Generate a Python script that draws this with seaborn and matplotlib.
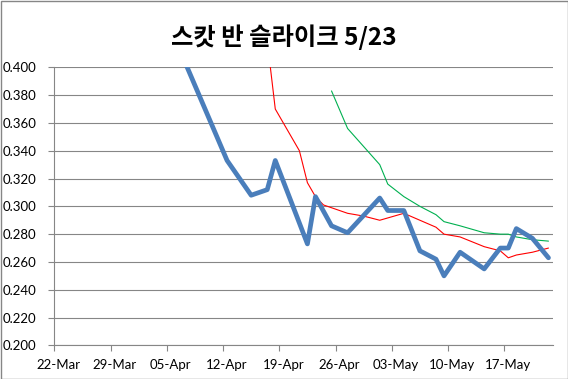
import numpy as np
import pandas as pd
import matplotlib
matplotlib.use("Agg")
import matplotlib.pyplot as plt
import matplotlib.dates as mdates
import seaborn as sns

# ---- data ----
title = "스캇 반 슬라이크 5/23"
start_date = "2014-03-22"
tick_labels = ["22-Mar", "29-Mar", "05-Apr", "12-Apr", "19-Apr", "26-Apr",
               "03-May", "10-May", "17-May"]

blue_days = [15, 21, 24, 26, 27, 31, 32, 34, 36, 40, 41, 43, 45, 47, 48, 50,
             53, 55, 56, 57, 59, 61]
blue_vals = [0.414, 0.333, 0.308, 0.312, 0.333, 0.273, 0.307, 0.286, 0.281,
             0.306, 0.297, 0.297, 0.268, 0.262, 0.250, 0.267, 0.255, 0.270,
             0.270, 0.284, 0.277, 0.263]

red_days = [26, 27, 30, 31, 32, 33, 36, 38, 40, 43, 47, 48, 50, 53, 55, 56,
            57, 59, 61]
red_vals = [0.419, 0.370, 0.340, 0.317, 0.307, 0.301, 0.295, 0.293, 0.290,
            0.295, 0.285, 0.280, 0.278, 0.271, 0.268, 0.263, 0.265, 0.267,
            0.270]

green_days = [34, 36, 40, 41, 43, 45, 47, 48, 50, 53, 55, 56, 57, 59, 61]
green_vals = [0.383, 0.356, 0.330, 0.316, 0.307, 0.300, 0.294, 0.289, 0.286,
              0.281, 0.280, 0.280, 0.278, 0.276, 0.275]

y_ticks = [0.200, 0.220, 0.240, 0.260, 0.280, 0.300, 0.320, 0.340, 0.360,
           0.380, 0.400]

# ---- build frames ----
t0 = pd.Timestamp(start_date)
def frame(days, vals):
    return pd.DataFrame({"date": t0 + pd.to_timedelta(days, unit="D"),
                         "val": vals})
blue = frame(blue_days, blue_vals)
red = frame(red_days, red_vals)
green = frame(green_days, green_vals)

sns.set_style("white")
plt.rcParams["font.family"] = ["Lato", "DejaVu Sans"]
plt.rcParams["text.color"] = "black"

W, H = 568, 379
fig = plt.figure(figsize=(W / 100, H / 100), dpi=100)
left, right, top, bottom = 54.3, 552.5, 67.3, 345.4
ax = fig.add_axes([left / W, 1 - bottom / H, (right - left) / W, (bottom - top) / H])

grid_c = "#868686"
for yv in y_ticks:
    ax.axhline(yv, color=grid_c, lw=0.8, zorder=0)

sns.lineplot(data=red, x="date", y="val", ax=ax, color="#FF0000", lw=0.8,
             zorder=3)
sns.lineplot(data=green, x="date", y="val", ax=ax, color="#00B050", lw=0.8,
             zorder=3)
sns.lineplot(data=blue, x="date", y="val", ax=ax, color="#4A7EBB", lw=3.4,
             zorder=4, solid_joinstyle="round", solid_capstyle="round")

ax.set_ylim(0.200, 0.400)
ax.set_xlim(t0 - pd.Timedelta(hours=12), t0 + pd.Timedelta(days=61, hours=12))
ax.set_xlabel("")
ax.set_ylabel("")

ax.set_yticks(y_ticks)
ax.set_yticklabels([f"{v:.3f}" for v in y_ticks])

major = [mdates.date2num(t0 + pd.Timedelta(days=7 * i) - pd.Timedelta(hours=12))
         for i in range(len(tick_labels))]
minor = [mdates.date2num(t0 + pd.Timedelta(days=7 * i)) for i in range(len(tick_labels))]
ax.xaxis.set_major_locator(matplotlib.ticker.FixedLocator(major))
ax.xaxis.set_major_formatter(matplotlib.ticker.NullFormatter())
ax.xaxis.set_minor_locator(matplotlib.ticker.FixedLocator(minor))
ax.xaxis.set_minor_formatter(matplotlib.ticker.FixedFormatter(tick_labels))

ax.tick_params(axis="x", which="major", direction="out", length=4, width=0.8,
               color=grid_c, bottom=True)
ax.tick_params(axis="x", which="minor", length=0, pad=10, labelsize=9.5,
               labelcolor="black", bottom=True)
ax.tick_params(axis="y", direction="out", length=4, width=0.8, color=grid_c,
               left=True, pad=9, labelsize=9.5, labelcolor="black")

for s in ["top", "right"]:
    ax.spines[s].set_visible(False)
for s in ["left", "bottom"]:
    ax.spines[s].set_color(grid_c)
    ax.spines[s].set_linewidth(0.8)

fig.text(0.5, 1 - 37 / H, title, ha="center", va="center", fontsize=17.5,
         fontweight="bold", color="black",
         family=["Noto Sans CJK KR", "DejaVu Sans"])

fig.patches.append(matplotlib.patches.Rectangle((0.5 / W, 0.5 / H), 1 - 1 / W, 1 - 1 / H,
                   transform=fig.transFigure, fill=False, edgecolor="#868686",
                   lw=1))

fig.savefig("out.png", dpi=100)
